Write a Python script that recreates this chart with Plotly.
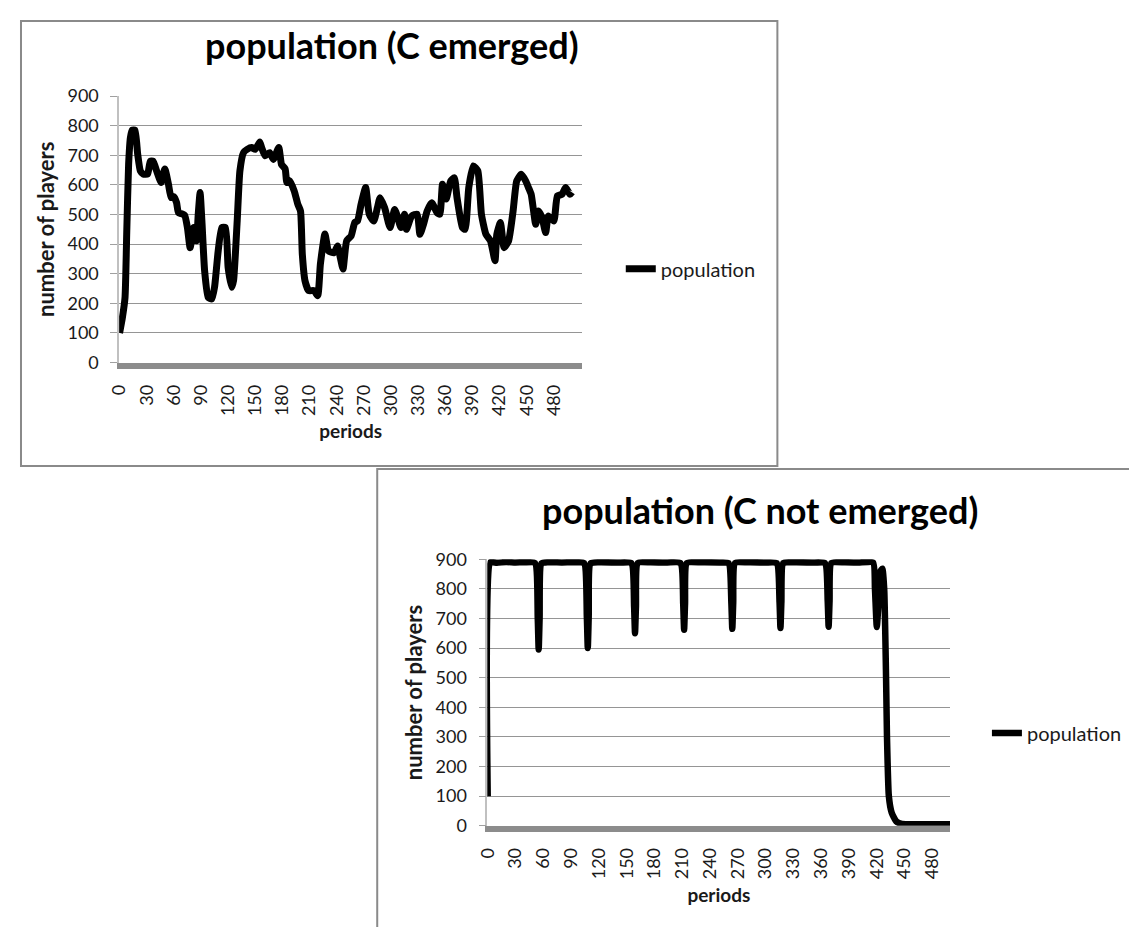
import plotly.graph_objects as go

# Positions below are given in reference-image pixels and mapped to paper
# coordinates (the page adds a body margin and the photo is slightly rescaled).
W, H = 1130, 929
SX, OX = 0.989, 12.0
SY, OY = 0.978, 11.0
MARGIN = 8

# ---------------- data ----------------
periods_emerged = [0, 3, 6, 8, 10, 12, 14, 17, 20, 23, 26, 31, 34, 37, 41, 46, 50, 54, 57, 60,
                   63, 65, 69, 72, 75, 78, 82, 85, 87, 89, 91, 94, 98, 102, 105, 109, 113, 117, 120, 124,
                   126, 130, 133, 137, 141, 146, 150, 155, 157, 161, 166, 170, 176, 179, 183, 185, 188, 193, 197, 200,
                   202, 205, 209, 215, 219, 222, 227, 231, 237, 241, 244, 247, 251, 256, 260, 263, 267, 272, 276, 281,
                   285, 288, 293, 299, 304, 307, 311, 315, 317, 323, 329, 332, 336, 340, 345, 351, 354, 357, 361, 366,
                   370, 373, 379, 382, 386, 391, 396, 400, 405, 410, 415, 417, 421, 425, 430, 435, 439, 444, 449, 452,
                   455, 460, 463, 467, 471, 474, 480, 484, 489, 493, 498, 500]
population_emerged = [100, 150, 219, 450, 670, 760, 785, 785, 704, 647, 637, 637, 680, 680, 647, 608, 654, 603, 557, 560,
                      540, 507, 502, 497, 456, 388, 456, 411, 503, 574, 478, 310, 220, 215, 255, 377, 456, 456, 321, 254,
                      277, 478, 647, 709, 720, 726, 720, 745, 726, 698, 709, 686, 726, 669, 654, 608, 614, 580, 535, 512,
                      366, 276, 243, 243, 226, 333, 434, 377, 371, 394, 354, 316, 411, 428, 473, 478, 535, 591, 501, 478,
                      523, 557, 523, 456, 517, 495, 456, 501, 450, 495, 501, 433, 467, 512, 540, 506, 501, 602, 552, 613,
                      624, 557, 456, 450, 591, 664, 647, 501, 433, 411, 344, 433, 473, 388, 411, 512, 613, 636, 613, 591,
                      568, 467, 512, 490, 439, 495, 478, 563, 568, 591, 568, 575]

periods_not_emerged = [0, 3, 10, 20, 30, 40, 51, 54, 55, 56, 58, 65,
                       80, 95, 104, 107, 108, 109, 111, 120, 140, 155, 158, 159, 160, 162,
                       175, 190, 208, 211, 212, 213, 215, 230, 250, 260, 263, 264, 265, 267,
                       280, 300, 312, 315, 316, 317, 319, 330, 350, 364, 367, 368, 369, 371,
                       385, 400, 416, 418, 420, 422, 424, 426, 428, 430,
                       431, 433, 436, 441, 447, 455, 470, 485, 499]
population_not_emerged = [100, 890, 888, 891, 889, 890, 887, 700, 595, 700, 886, 890,
                          889, 890, 887, 705, 600, 705, 886, 890, 889, 887, 740, 650, 740, 887,
                          890, 889, 887, 750, 662, 750, 887, 890, 889, 887, 752, 665, 752, 887,
                          890, 889, 887, 755, 668, 755, 887, 890, 889, 887, 758, 672, 758, 887,
                          890, 889, 889, 800, 671, 760, 860, 868, 800, 500,
                          300, 100, 45, 15, 6, 5, 5, 5, 5]

y_ticks = list(range(0, 901, 100))
x_ticks = list(range(0, 481, 30))

title_top = "population (C emerged)"
title_bottom = "population (C not emerged)"
series_name = "population"
x_title = "periods"
y_title = "number of players"

FONT = "Lato"
TXT = "#1a1a1a"


def fx(ref_x):
    return ((ref_x - OX) / SX - MARGIN) / W


def fy(ref_y):
    return 1 - ((ref_y - OY) / SY - MARGIN) / H


fig = go.Figure()
fig.add_trace(go.Scatter(x=periods_emerged, y=population_emerged, mode="lines", name=series_name,
                         line=dict(color="black", width=7, shape="spline", smoothing=0.5),
                         xaxis="x", yaxis="y", legend="legend"))
fig.add_trace(go.Scatter(x=periods_not_emerged, y=population_not_emerged, mode="lines", name=series_name,
                         line=dict(color="black", width=6.5, shape="spline", smoothing=0.5),
                         xaxis="x2", yaxis="y2", legend="legend2"))

tickfont = dict(family=FONT, size=18, color=TXT)
xtitlefont = dict(family=FONT, size=19, color=TXT)
ytitlefont = dict(family=FONT, size=22, color=TXT)


def xaxis_cfg(domain, anchor, rng):
    return dict(domain=domain, anchor=anchor, range=rng, tickmode="array", tickvals=x_ticks,
                ticktext=[str(t) for t in x_ticks], tickangle=-90, showline=True, linecolor="#8c8c8c",
                linewidth=6, showgrid=False, zeroline=False, ticks="", tickfont=tickfont,
                ticklabelstandoff=9,
                title=dict(text="<b>" + x_title + "</b>", font=xtitlefont, standoff=12), fixedrange=True)


def yaxis_cfg(domain, anchor):
    return dict(domain=domain, anchor=anchor, range=[0, 900], tickmode="array", tickvals=y_ticks,
                showgrid=True, gridcolor="#959595", gridwidth=1.2, showline=True, linecolor="#c0c0c0",
                linewidth=1.5, ticks="outside", ticklen=7, tickcolor="#a0a0a0", zeroline=False,
                tickfont=tickfont, ticklabelstandoff=8,
                title=dict(text="<b>" + y_title + "</b>", font=ytitlefont, standoff=7), fixedrange=True)


fig.update_layout(
    width=W, height=H, margin=dict(l=0, r=0, t=0, b=0),
    paper_bgcolor="white", plot_bgcolor="white",
    xaxis=xaxis_cfg([fx(119), fx(582)], "y", [-0.5, 511.5]),
    yaxis=yaxis_cfg([fy(362), fy(95)], "x"),
    xaxis2=xaxis_cfg([fx(487), fx(950)], "y2", [-0.5, 499.5]),
    yaxis2=yaxis_cfg([fy(826), fy(559)], "x2"),
    legend=dict(x=fx(662) - 42 / W, y=fy(268), xanchor="left", yanchor="middle",
                font=dict(family=FONT, size=20, color=TXT), bgcolor="rgba(0,0,0,0)"),
    legend2=dict(x=fx(1028) - 42 / W, y=fy(733), xanchor="left", yanchor="middle",
                 font=dict(family=FONT, size=20, color=TXT), bgcolor="rgba(0,0,0,0)"),
    showlegend=True,
    annotations=[
        dict(text="<b>" + title_top + "</b>", x=fx(392), y=fy(44), xref="paper", yref="paper",
             xanchor="center", yanchor="middle", showarrow=False,
             font=dict(family=FONT, size=36, color="black")),
        dict(text="<b>" + title_bottom + "</b>", x=fx(760), y=fy(510), xref="paper", yref="paper",
             xanchor="center", yanchor="middle", showarrow=False,
             font=dict(family=FONT, size=36, color="black")),
    ],
    shapes=[
        dict(type="rect", xref="paper", yref="paper", x0=1 / W, x1=fx(777), y0=fy(465.5), y1=1 - 1 / H,
             line=dict(color="#8a8a8a", width=2), fillcolor="rgba(0,0,0,0)", layer="below"),
        dict(type="rect", xref="paper", yref="paper", x0=fx(377), x1=1.05, y0=-0.05, y1=fy(468.5),
             line=dict(color="#8a8a8a", width=2), fillcolor="rgba(0,0,0,0)", layer="below"),
    ],
)

fig.write_html("out.html")
